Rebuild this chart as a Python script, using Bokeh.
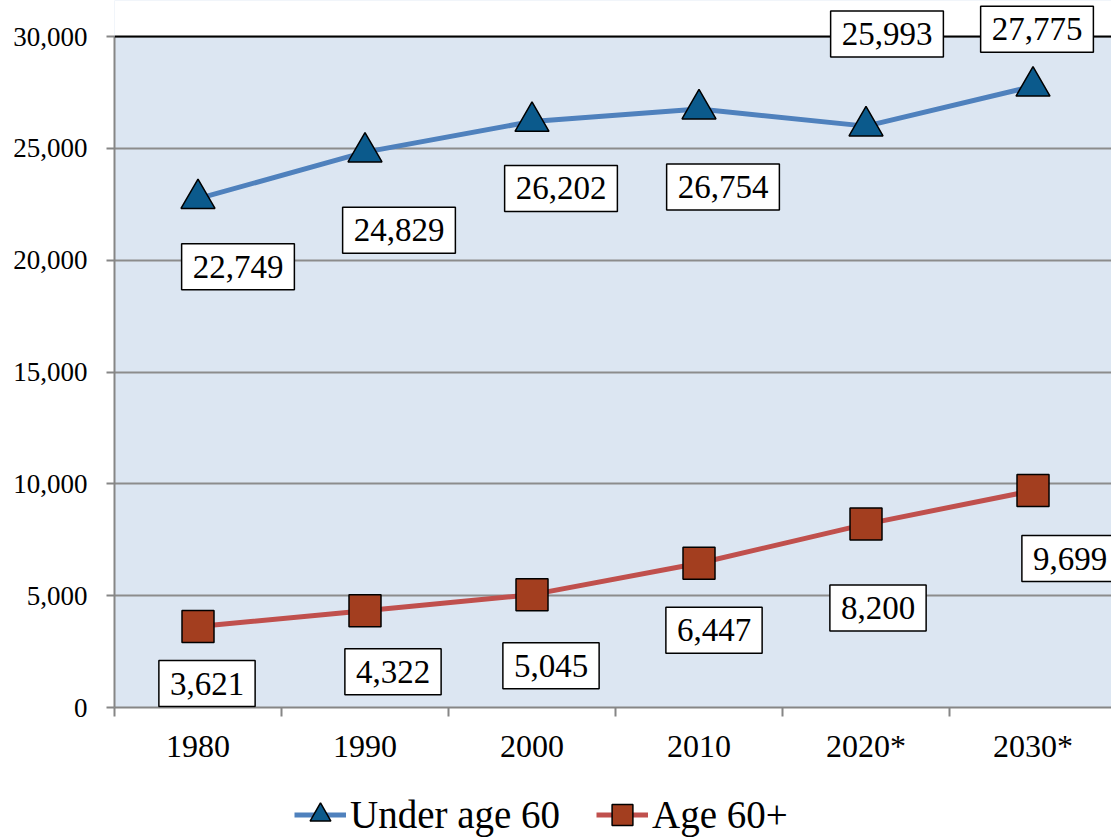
from bokeh.plotting import figure
from bokeh.layouts import column
from bokeh.models import (Range1d, FixedTicker, NumeralTickFormatter, Label,
                          Legend, LegendItem, Span, BoxAnnotation)
from bokeh.embed import file_html
from bokeh.resources import INLINE

# ---- data ----
years = ["1980", "1990", "2000", "2010", "2020*", "2030*"]
under60 = [22749, 24829, 26202, 26754, 25993, 27775]
age60 = [3621, 4322, 5045, 6447, 8200, 9699]
yticks = [0, 5000, 10000, 15000, 20000, 25000, 30000]
y_max = 30000
series_names = ["Under age 60", "Age 60+"]

# label placement (screen px offsets from the marker: right, down)
u_dx = [40, 34, 29, 24, 21, 4]
u_dy = [68, 78, 67, 78, -92, -57]
a_dx = [9, 28, 19, 15, 12, 37]
a_dy = [57, 61, 71, 67, 84, 68]

FONT = "Liberation Serif"
BLUE_LINE, BLUE_MARK = "#4F81BD", "#0B5A8C"
RED_LINE, RED_MARK = "#C0504D", "#A33E1F"
GREY = "#868686"
xs = list(range(len(years)))

# frame spans the full height down to the x axis; the strip above y_max is painted white
top_pad = 36 / 671  # fraction of the value span kept as white headroom above y_max
p = figure(width=1111, height=768, output_backend="svg", toolbar_location=None,
           x_range=Range1d(-0.5, 5.47), y_range=Range1d(0, y_max * (1 + top_pad)),
           min_border_left=114, min_border_right=0, min_border_top=0,
           min_border_bottom=61,
           background_fill_color="#DCE6F2", border_fill_color="white",
           outline_line_color=None)

# grid
p.xgrid.grid_line_color = None
p.ygrid.grid_line_color = "#8C8C8C"
p.ygrid.grid_line_width = 2

# y axis
p.yaxis.ticker = FixedTicker(ticks=yticks)
p.yaxis.bounds = (0, y_max)
p.yaxis.formatter = NumeralTickFormatter(format="0,0")
p.yaxis.axis_line_color = GREY
p.yaxis.axis_line_width = 2
p.yaxis.major_tick_line_color = GREY
p.yaxis.major_tick_line_width = 2
p.yaxis.major_tick_out = 8
p.yaxis.major_tick_in = 0
p.yaxis.minor_tick_line_color = None
p.yaxis.major_label_text_font = FONT
p.yaxis.major_label_text_font_size = "27px"
p.yaxis.major_label_text_color = "black"
p.yaxis.major_label_standoff = 19

# x axis
p.xaxis.ticker = FixedTicker(ticks=xs, minor_ticks=[i - 0.5 for i in range(len(years) + 1)])
p.xaxis.major_label_overrides = {i: y for i, y in zip(xs, years)}
p.xaxis.axis_line_color = GREY
p.xaxis.axis_line_width = 2
p.xaxis.major_tick_line_color = None
p.xaxis.major_tick_out = 0
p.xaxis.major_tick_in = 0
p.xaxis.minor_tick_line_color = GREY
p.xaxis.minor_tick_line_width = 2
p.xaxis.minor_tick_out = 9
p.xaxis.minor_tick_in = 0
p.xaxis.major_label_text_font = FONT
p.xaxis.major_label_text_font_size = "32px"
p.xaxis.major_label_text_color = "black"
p.xaxis.major_label_standoff = 11

# white headroom and top border line
p.add_layout(BoxAnnotation(bottom=y_max, fill_color="white", fill_alpha=1, line_color=None))
p.add_layout(Span(location=y_max, dimension="width", line_color="black", line_width=2))

# series
p.line(xs, under60, line_color=BLUE_LINE, line_width=5)
p.scatter(xs, under60, marker="triangle", size=34, fill_color=BLUE_MARK,
          line_color="black", line_width=1.5)
p.line(xs, age60, line_color=RED_LINE, line_width=5)
p.scatter(xs, age60, marker="square", size=32, fill_color=RED_MARK,
          line_color="black", line_width=1.5)

# data labels
for vals, dxs, dys in ((under60, u_dx, u_dy), (age60, a_dx, a_dy)):
    for i, v in enumerate(vals):
        p.add_layout(Label(x=i, y=v, text=f"{v:,}", x_offset=dxs[i], y_offset=-dys[i],
                           text_align="center", text_baseline="middle",
                           text_font=FONT, text_font_size="33px", text_color="black",
                           background_fill_color="white", border_line_color="black",
                           border_line_width=1.5,
                           padding=dict(left=11, right=11, top=12, bottom=12)))

# legend strip below the chart (swatch glyphs sit outside its visible range)
lg = figure(width=1111, height=70, output_backend="svg", toolbar_location=None,
            x_range=Range1d(0, 1), y_range=Range1d(0, 1),
            x_axis_type=None, y_axis_type=None,
            min_border_left=0, min_border_right=0, min_border_top=0, min_border_bottom=0,
            background_fill_color="white", border_fill_color="white",
            outline_line_color=None)
lg.xgrid.grid_line_color = None
lg.ygrid.grid_line_color = None
swatch = [5]
k1 = lg.line(swatch, swatch, line_color=BLUE_LINE, line_width=5)
m1 = lg.scatter(swatch, swatch, marker="triangle", size=22, fill_color=BLUE_MARK,
                line_color="black", line_width=1.5)
k2 = lg.line(swatch, swatch, line_color=RED_LINE, line_width=5)
m2 = lg.scatter(swatch, swatch, marker="square", size=22, fill_color=RED_MARK,
                line_color="black", line_width=1.5)
legend = Legend(items=[LegendItem(label=series_names[0], renderers=[k1, m1]),
                       LegendItem(label=series_names[1], renderers=[k2, m2])],
                orientation="horizontal", location=(180, -4), padding=0, margin=0,
                spacing=36, label_standoff=4, glyph_width=52, glyph_height=55,
                label_text_font=FONT, label_text_font_size="39px",
                label_text_color="black", background_fill_alpha=0,
                border_line_color=None)
lg.add_layout(legend)

layout = column(p, lg, spacing=0)
open("out.html", "w").write(file_html(layout, INLINE))
